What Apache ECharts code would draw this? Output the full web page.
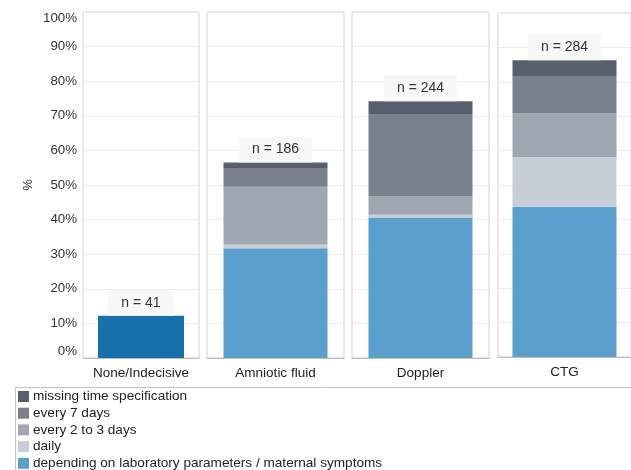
<!DOCTYPE html>
<html>
<head>
<meta charset="utf-8">
<script src="https://cdn.jsdelivr.net/npm/echarts@6/dist/echarts.min.js"></script>
<style>
  html, body { margin: 0; padding: 0; background: #fff; }
  #chart { width: 631px; height: 470px; }
</style>
</head>
<body>
<div id="chart"></div>
<script>
// Monitoring method facets
const categories = ['None/Indecisive', 'Amniotic fluid', 'Doppler', 'CTG'];
const sampleSizes = [41, 186, 244, 284];

// Share of women (%) with no / indecisive monitoring
const noneShare = [12.2];

// Monitoring frequency shares (%) for Amniotic fluid, Doppler, CTG
const byLabParameters = [31.7, 40.6, 43.7];
const daily = [1.1, 0.8, 14.4];
const every2to3Days = [16.7, 5.3, 12.7];
const every7Days = [5.4, 23.8, 10.9];
const missingTime = [1.6, 3.7, 4.6];

const yTicks = { min: 0, max: 100, interval: 10 };

const FONT = '"Liberation Sans", Arial, sans-serif';

const stackSeries = [
  { name: 'depending on laboratory parameters / maternal symptoms', values: byLabParameters, color: '#5ba0cc' },
  { name: 'daily', values: daily, color: '#c8ced8' },
  { name: 'every 2 to 3 days', values: every2to3Days, color: '#a1a7b2' },
  { name: 'every 7 days', values: every7Days, color: '#7a808c' },
  { name: 'missing time specification', values: missingTime, color: '#585f6c' }
];

// facet panel geometry
const panels = [
  { left: 83, top: 12, width: 116, height: 346, bar: 86 },
  { left: 207, top: 12, width: 137, height: 346, bar: 104 },
  { left: 352, top: 12, width: 137, height: 346, bar: 104 },
  { left: 498, top: 13, width: 137, height: 344, bar: 104 }
];

const nLabel = (i) => ({
  show: true,
  position: 'top',
  distance: 0,
  formatter: () => 'n = ' + sampleSizes[i],
  fontFamily: FONT,
  fontSize: 14,
  color: '#333',
  backgroundColor: '#f7f7f7',
  padding: [6, 13]
});

const grids = panels.map(p => ({
  left: p.left, top: p.top, width: p.width, height: p.height,
  show: true, borderColor: '#d2d2d2', borderWidth: 1, backgroundColor: '#fff'
}));

const xAxes = panels.map((p, i) => ({
  type: 'category',
  gridIndex: i,
  data: [categories[i]],
  axisTick: { show: false },
  axisLine: { lineStyle: { color: '#bdbdbd' } },
  axisLabel: { fontFamily: FONT, fontSize: 13.5, color: '#222', margin: 8 }
}));

const yAxes = panels.map((p, i) => ({
  type: 'value',
  gridIndex: i,
  min: yTicks.min, max: yTicks.max, interval: yTicks.interval,
  name: i === 0 ? '%' : '',
  nameLocation: 'middle',
  nameGap: 48,
  nameRotate: 90,
  nameTextStyle: { fontFamily: FONT, fontSize: 13, color: '#333' },
  axisLine: { show: false },
  axisTick: { show: false },
  splitLine: { show: true, lineStyle: { color: '#ececec', width: 1 } },
  axisLabel: {
    show: i === 0,
    formatter: '{value}%',
    fontFamily: FONT, fontSize: 13.3, color: '#333', margin: 6,
    verticalAlignMinLabel: 'bottom',
    verticalAlignMaxLabel: 'top'
  }
}));

const series = [{
  name: categories[0],
  type: 'bar',
  xAxisIndex: 0, yAxisIndex: 0,
  barWidth: panels[0].bar,
  data: noneShare,
  itemStyle: { color: '#1670aa' },
  label: nLabel(0)
}];

for (let k = 1; k < categories.length; k++) {
  stackSeries.forEach((s, j) => {
    series.push({
      name: s.name,
      type: 'bar',
      stack: 'facet' + k,
      xAxisIndex: k, yAxisIndex: k,
      barWidth: panels[k].bar,
      data: [s.values[k - 1]],
      itemStyle: { color: s.color },
      label: j === stackSeries.length - 1 ? nLabel(k) : { show: false }
    });
  });
}

const chart = echarts.init(document.getElementById('chart'), null, { renderer: 'canvas' });
chart.setOption({
  animation: false,
  backgroundColor: '#fff',
  grid: grids,
  xAxis: xAxes,
  yAxis: yAxes,
  legend: {
    orient: 'vertical',
    left: 18,
    top: 389.5,
    width: 520,
    height: 120,
    padding: 0,
    itemWidth: 11,
    itemHeight: 11,
    itemGap: 2.7,
    selectedMode: false,
    icon: 'rect',
    textStyle: { fontFamily: FONT, fontSize: 13.6, color: '#222', lineHeight: 13.5, padding: [0, 0, 0, -1] },
    data: stackSeries.map(s => s.name).reverse()
  },
  graphic: [{
    type: 'rect',
    silent: true,
    z: -1,
    shape: { x: 15.5, y: 387.5, width: 700, height: 200 },
    style: { fill: null, stroke: '#c4c4c4', lineWidth: 1 }
  }],
  series: series
});
</script>
</body>
</html>
